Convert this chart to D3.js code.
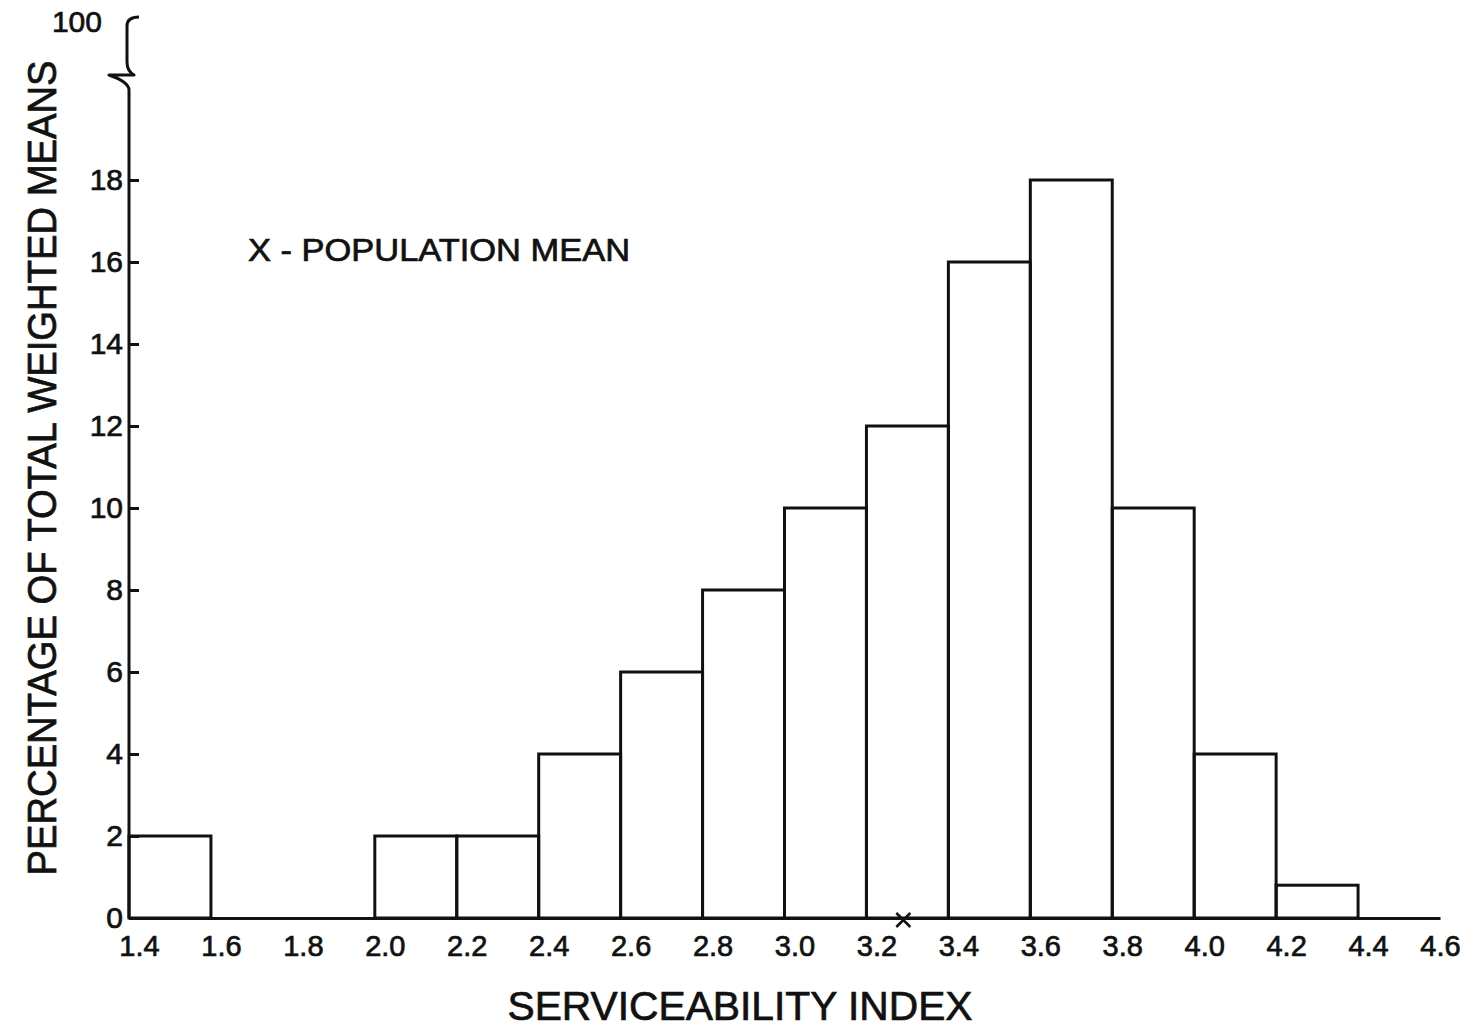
<!DOCTYPE html>
<html><head><meta charset="utf-8">
<script src="https://cdn.jsdelivr.net/npm/d3@7"></script>
<style>
html,body{margin:0;padding:0;background:#fff;}
svg{display:block;}
text{font-family:"Liberation Sans",Arial,sans-serif;fill:#111;stroke:#111;stroke-width:0.7px;}
</style></head>
<body>
<script>
// ---- data ----
const binStarts = [1.4,1.6,1.8,2.0,2.2,2.4,2.6,2.8,3.0,3.2,3.4,3.6,3.8,4.0,4.2];
const binWidth = 0.2;
const percentages = [2,0,0,2,2,4,6,8,10,12,16,18,10,4,0.8];
const xTicks = [1.4,1.6,1.8,2.0,2.2,2.4,2.6,2.8,3.0,3.2,3.4,3.6,3.8,4.0,4.2,4.4,4.6];
const yTicks = [0,2,4,6,8,10,12,14,16,18];
const breakLabel = "100";
const populationMean = 3.29;
const xTitle = "SERVICEABILITY INDEX";
const yTitle = "PERCENTAGE OF TOTAL WEIGHTED MEANS";
const legendText = "X - POPULATION MEAN";

// ---- layout ----
const W = 1484, H = 1029;
const x = d3.scaleLinear().domain([1.4, 4.6]).range([129, 1440]);
const y = d3.scaleLinear().domain([0, 18]).range([918, 180]);
const ink = "#111";
const sw = 3;
const FF = "'Liberation Sans',Arial,sans-serif";

const svg = d3.select("body").append("svg").attr("width", W).attr("height", H);

// bars
svg.append("g").selectAll("rect")
  .data(binStarts.map((s,i)=>({s, v:percentages[i]})).filter(d=>d.v>0))
  .join("rect")
  .attr("x", d=>x(d.s))
  .attr("y", d=>y(d.v))
  .attr("width", d=>x(d.s+binWidth)-x(d.s))
  .attr("height", d=>y(0)-y(d.v))
  .attr("fill","none").attr("stroke",ink).attr("stroke-width",sw);

// x axis
const xAxis = d3.axisBottom(x).tickValues(xTicks).tickSize(0).tickPadding(17)
  .tickFormat(d3.format(".1f"));
const gx = svg.append("g").attr("transform",`translate(0,${y(0)})`).call(xAxis);
gx.select(".domain").attr("stroke",ink).attr("stroke-width",sw);
gx.selectAll("text").attr("font-size",29).attr("fill",ink).style("font-family",FF)
  .attr("dx", (d,i)=> i===xTicks.length-1 ? 0 : 10);

// y axis
const yAxis = d3.axisLeft(y).tickValues(yTicks).tickSize(-10).tickPadding(6)
  .tickFormat(d3.format("d"));
const gy = svg.append("g").attr("transform",`translate(${x(1.4)},0)`).call(yAxis);
gy.select(".domain").remove();
gy.selectAll(".tick line").attr("stroke",ink).attr("stroke-width",sw);
gy.selectAll("text").attr("font-size",30).attr("fill",ink).style("font-family",FF);

// y axis line with break brace up to 100
const ax = x(1.4);
const topY = 17;
const brk = d3.path();
brk.moveTo(ax, y(0));
brk.lineTo(ax, 90);
brk.quadraticCurveTo(ax, 82, ax-20, 75);
brk.lineTo(ax+5, 75);
brk.quadraticCurveTo(ax-2, 71, ax-2, 62);
brk.lineTo(ax-2, topY+9);
brk.quadraticCurveTo(ax-2, topY, ax+10, topY);
svg.append("path").attr("d", brk.toString()).attr("fill","none")
  .attr("stroke",ink).attr("stroke-width",sw).attr("stroke-linejoin","round");
svg.append("text").attr("x", ax-27).attr("y", topY+4).attr("dy","0.36em")
  .attr("text-anchor","end").attr("font-size",30).text(breakLabel);

// population mean marker
const mx = x(populationMean), my = y(0)+2, r = 7;
svg.append("path")
  .attr("d", `M${mx-r},${my-r}L${mx+r},${my+r}M${mx+r},${my-r}L${mx-r},${my+r}`)
  .attr("stroke",ink).attr("stroke-width",2.5).attr("fill","none");

// legend
svg.append("text").attr("x",248).attr("y",261).attr("font-size",32)
  .attr("textLength",382).attr("lengthAdjust","spacingAndGlyphs").text(legendText);

// titles
svg.append("text").attr("x",740).attr("y",1020).attr("text-anchor","middle")
  .attr("font-size",40).attr("textLength",465).attr("lengthAdjust","spacingAndGlyphs")
  .text(xTitle);
svg.append("text").attr("transform","translate(56,468) rotate(-90)")
  .attr("text-anchor","middle").attr("font-size",40)
  .attr("textLength",815).attr("lengthAdjust","spacingAndGlyphs").text(yTitle);
</script>
</body></html>
